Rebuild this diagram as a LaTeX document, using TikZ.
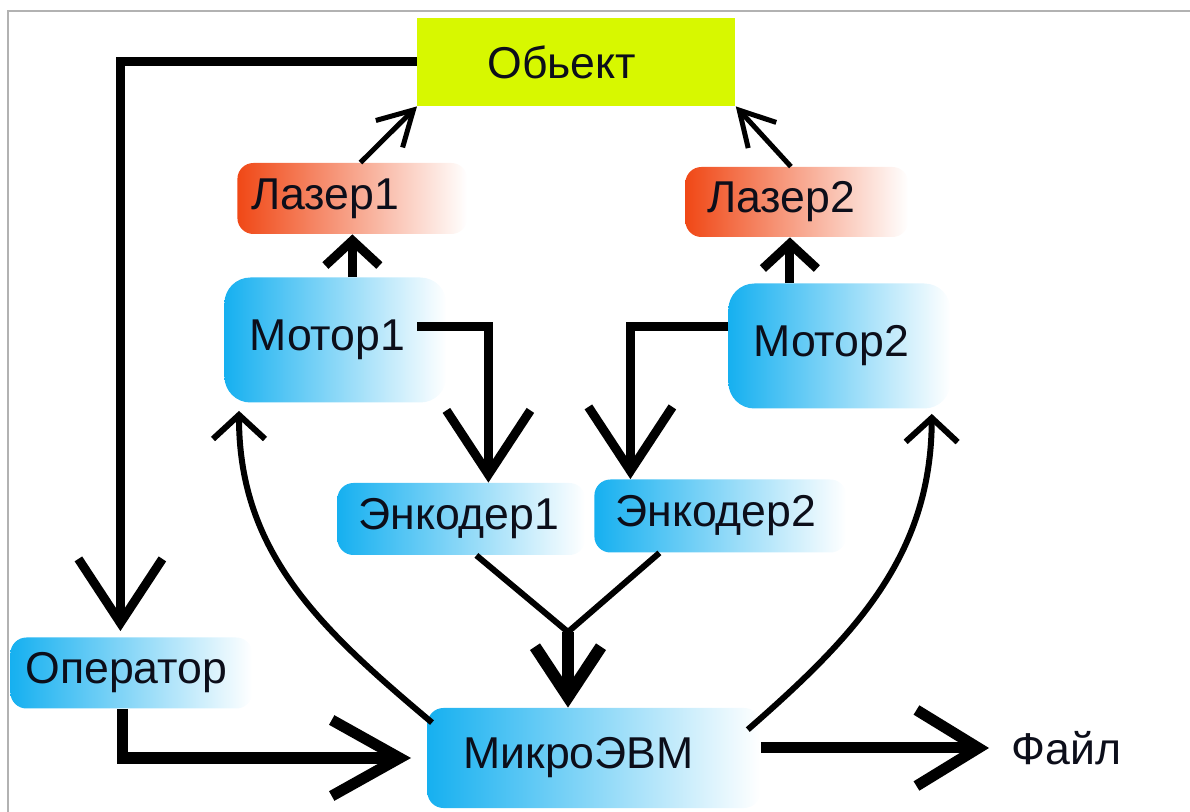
\documentclass[tikz,border=0pt]{standalone}
\usepackage{fontspec}
\setmainfont{Liberation Sans}
\usepackage{xcolor}
\usepackage{tikz}
\usetikzlibrary{arrows.meta}

\definecolor{objlime}{RGB}{215,248,0}
\definecolor{motblue}{RGB}{22,176,240}
\definecolor{lasred}{RGB}{240,72,22}
\definecolor{inkdark}{RGB}{12,14,26}

\begin{document}
\begin{tikzpicture}[x=0.5pt, y=-0.5pt,
    % --- node styles ---
    blk/.style={rectangle, anchor=west, align=left, text=inkdark,
        font=\fontsize{22.3}{25}\selectfont},
    objbox/.style={blk, fill=objlime, minimum height=44pt,
        inner xsep=35pt, text width=89pt},
    laserbox/.style={blk, rounded corners=8pt, left color=lasred,
        middle color=lasred!40, right color=white},
    bluebox/.style={blk, rounded corners=8pt, left color=motblue,
        middle color=motblue!50, right color=white},
    % --- arrow styles ---
    heavy/.style={line width=4.5pt, -{Straight Barb[length=32pt, width=42pt]}},
    joinarr/.style={line width=6pt, -{Straight Barb[length=25pt, width=33pt]}},
    midarr/.style={line width=4.5pt, -{Straight Barb[length=12.5pt, width=27pt]}},
    curvearr/.style={line width=3pt, -{Straight Barb[length=12pt, width=26pt]}},
    lasarr/.style={line width=2.5pt, -{Straight Barb[length=17pt, width=19pt]}},
    thinline/.style={line width=3pt}
]
\useasboundingbox (0,0) rectangle (1190,812);
\draw[gray!60, line width=0.8pt] (8,812) -- (8,11) -- (1190,11);

%%% ================= TOP: OBJECT AND LASERS =================
\node (obj) [objbox] at (417,62) {Обьект};
\node (laser1) [laserbox, minimum height=35.5pt, inner xsep=7pt,
    text width=101pt] at (237,198.5) {Лазер1};
\node (laser2) [laserbox, minimum height=35pt, inner xsep=11pt,
    text width=89.5pt] at (685,202) {Лазер2};

%%% ================= MOTORS =================
\node (motor1) [bluebox, rounded corners=13pt, minimum height=62.5pt,
    inner xsep=12.5pt, text width=86pt] at (224,340) {Мотор1};
\node (motor2) [bluebox, rounded corners=13pt, minimum height=62.5pt,
    inner xsep=12.5pt, text width=86pt] at (728,346) {Мотор2};

%%% ================= ENCODERS =================
\node (enc1) [bluebox, minimum height=36pt, inner xsep=10.5pt,
    text width=103pt] at (337,519) {Энкодер1};
\node (enc2) [bluebox, minimum height=36.5pt, inner xsep=10.5pt,
    text width=105pt] at (594,516) {Энкодер2};

%%% ================= BOTTOM ROW =================
\node (oper) [bluebox, minimum height=35.5pt, inner xsep=7.5pt,
    text width=106pt] at (10,673) {Оператор};
\node (micro) [bluebox, minimum height=50pt, inner xsep=18pt,
    text width=130.5pt] at (427,758) {МикроЭВМ};
\node (file) [blk, inner sep=0pt] at (1011,748) {Файл};

%%% ================= ARROWS =================
%% Object feedback to operator
\draw [heavy, shorten >=3pt] (obj.west) -| ([xshift=-5.5pt]oper.north);

%% Lasers on the object
\draw [lasarr] ([xshift=4pt]laser1.north) -- (obj.south west);
\draw [lasarr] ([xshift=-3pt]laser2.north) -- (obj.south east);

%% Motors drive lasers
\draw [midarr] (laser1.south |- motor1.north) -- (laser1.south);
\draw [midarr] ([xshift=-3.5pt]laser2.south |- motor2.north)
    -- ([xshift=-3.5pt]laser2.south);

%% Motors to encoders
\coordinate (m1out) at (417,327);
\draw [heavy] (m1out) -| ([xshift=13.5pt]enc1.north);
\draw [heavy] ([yshift=9.5pt]motor2.west) -| ([xshift=-45pt]enc2.north);

%% Encoders merge into the computer
\coordinate (join) at (568,632);
\draw [thinline] ([xshift=7.5pt]enc1.south) -- (join);
\draw [thinline] ([xshift=-30.5pt]enc2.south) -- (join);
\draw [joinarr] (join) -- (micro.north -| join);

%% Operator to computer
\draw [heavy, line width=5.5pt, -{Straight Barb[length=34pt, width=38pt]}]
    ([xshift=-4.5pt]oper.south) |- ([xshift=-8pt]micro.west);

%% Computer controls motors
\draw [curvearr] ([xshift=2.5pt,yshift=-7.5pt]micro.north west)
    .. controls (322,630) and (239,554) .. ([xshift=7.5pt,yshift=-4pt]motor1.south west);
\draw [curvearr] ([xshift=-6.5pt,yshift=-11pt]micro.north east)
    .. controls (855,636) and (931,556) .. ([xshift=-9.5pt,yshift=-2.5pt]motor2.south east);

%% Output to file
\draw [heavy, line width=5.5pt, -{Straight Barb[length=31pt, width=38pt]}]
    (micro.east |- file.west) -- ([xshift=-11pt]file.west);

\end{tikzpicture}
\end{document}
